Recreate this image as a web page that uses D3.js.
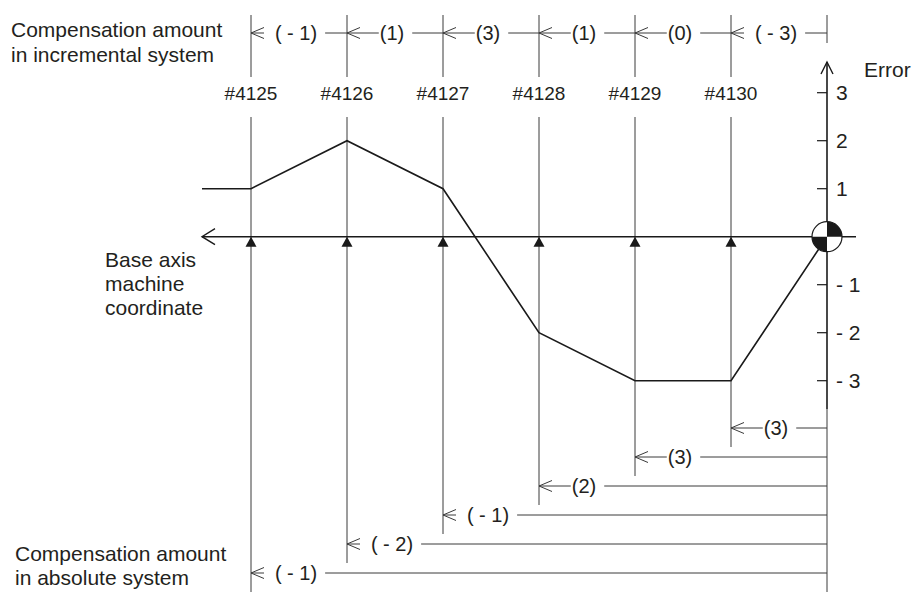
<!DOCTYPE html>
<html><head><meta charset="utf-8">
<script src="https://cdn.jsdelivr.net/npm/d3@7"></script>
<style>
body{margin:0;background:#fff}
svg{display:block}
text{font-family:"Liberation Sans",Arial,Helvetica,sans-serif;fill:#231f20}
</style></head>
<body><svg id="c" width="915" height="592"></svg>
<script>
// ---- data ----
const pointLabels = ["#4125","#4126","#4127","#4128","#4129","#4130"];
const errorValues = [1, 2, 1, -2, -3, -3];      // error at each compensation point
const leadError = 1;                              // error left of #4125
const referenceError = 0;                         // error at reference point
const incremental = [-1, 1, 3, 1, 0, -3];         // incremental system amounts
const absolute = [-1, -2, -1, 2, 3, 3];           // absolute system amounts
const yTicks = [3, 2, 1, -1, -2, -3];

// ---- layout ----
const svg = d3.select("#c");
const x = d3.scaleLinear().domain([0, 6]).range([251, 827]);
const y = d3.scaleLinear().domain([-3, 3]).range([380.7, 92.7]);
const rowY = d3.scaleLinear().domain([5, 0]).range([428, 573]);
const axisLeft = 202, axisRight = 856;
const incY = 33;
const dark = "#1a1a1a", thin = "#3a3a3a";
const FS = 20, LFS = 21;

const fmtAmt = v => v < 0 ? "( - " + (-v) + ")" : "(" + v + ")";
const fmtTick = v => v < 0 ? "- " + (-v) : String(v);

function arrowHead(g, tipX, yy) {
  g.append("path").attr("d", `M${tipX+13},${yy-5.5}L${tipX},${yy}L${tipX+13},${yy+5.5}`)
    .attr("fill", "none").attr("stroke", thin).attr("stroke-width", 1);
}

function amountRow(g, x0, x1, yy, v) {
  const cx = x0 + 45;
  const t = g.append("text").attr("x", cx).attr("y", yy).attr("dy", 7)
    .attr("text-anchor", "middle").attr("font-size", FS).text(fmtAmt(v));
  const w = t.node().getComputedTextLength();
  const ts = cx - w / 2, te = cx + w / 2;
  arrowHead(g, x0, yy);
  g.append("line").attr("x1", x0).attr("x2", v >= 0 ? ts - 1 : x0 + 13)
    .attr("y1", yy).attr("y2", yy).attr("stroke", thin).attr("stroke-width", 1);
  g.append("line").attr("x1", te + 8).attr("x2", x1)
    .attr("y1", yy).attr("y2", yy).attr("stroke", thin).attr("stroke-width", 1);
}

const gRef = svg.append("g");
// vertical reference lines
pointLabels.forEach((lab, i) => {
  gRef.append("line").attr("x1", x(i)).attr("x2", x(i)).attr("y1", 15).attr("y2", 77)
    .attr("stroke", thin).attr("stroke-width", 1);
  gRef.append("line").attr("x1", x(i)).attr("x2", x(i)).attr("y1", 117).attr("y2", rowY(i) + 19)
    .attr("stroke", thin).attr("stroke-width", 1);
  gRef.append("text").attr("x", x(i)).attr("y", 100).attr("text-anchor", "middle")
    .attr("font-size", 19).text(lab);
});
// right reference line pieces
gRef.append("line").attr("x1", x(6)).attr("x2", x(6)).attr("y1", 15).attr("y2", 43)
  .attr("stroke", thin).attr("stroke-width", 1);
gRef.append("line").attr("x1", x(6)).attr("x2", x(6)).attr("y1", 409).attr("y2", 592)
  .attr("stroke", thin).attr("stroke-width", 1);

// incremental row
incremental.forEach((v, i) => amountRow(gRef, x(i), x(i + 1), incY, v));
// absolute rows
absolute.forEach((v, i) => amountRow(gRef, x(i), x(6), rowY(i), v));

// base axis
const gAx = svg.append("g");
gAx.append("line").attr("x1", axisLeft).attr("x2", axisRight).attr("y1", y(0)).attr("y2", y(0))
  .attr("stroke", dark).attr("stroke-width", 1.6);
gAx.append("path").attr("d", `M${axisLeft+13},${y(0)-8}L${axisLeft},${y(0)}L${axisLeft+13},${y(0)+8}`)
  .attr("fill", "none").attr("stroke", dark).attr("stroke-width", 1.4);
// error axis
gAx.append("line").attr("x1", x(6)).attr("x2", x(6)).attr("y1", 62).attr("y2", 409)
  .attr("stroke", dark).attr("stroke-width", 1.6);
gAx.append("path").attr("d", `M${x(6)-6},${74}L${x(6)},${62}L${x(6)+6},${74}`)
  .attr("fill", "none").attr("stroke", dark).attr("stroke-width", 1.4);
gAx.append("text").attr("x", 864).attr("y", 77).attr("font-size", LFS).text("Error");
yTicks.forEach(v => {
  gAx.append("line").attr("x1", x(6) - 10).attr("x2", x(6)).attr("y1", y(v)).attr("y2", y(v))
    .attr("stroke", dark).attr("stroke-width", 1.2);
  gAx.append("text").attr("x", 836).attr("y", y(v)).attr("dy", 7).attr("font-size", LFS).text(fmtTick(v));
});
// triangles
pointLabels.forEach((lab, i) => {
  gAx.append("path").attr("d", `M${x(i)},${y(0)}L${x(i)-5.5},${y(0)+10}L${x(i)+5.5},${y(0)+10}Z`)
    .attr("fill", dark);
});

// error curve
const curve = [{i: x.invert(axisLeft), v: leadError}]
  .concat(errorValues.map((v, i) => ({i, v})))
  .concat([{i: 6, v: referenceError}]);
svg.append("path").datum(curve)
  .attr("d", d3.line().x(d => x(d.i)).y(d => y(d.v)))
  .attr("fill", "none").attr("stroke", dark).attr("stroke-width", 1.6);

// reference point marker
const gM = svg.append("g").attr("transform", `translate(${x(6)},${y(0)})`);
gM.append("circle").attr("r", 15).attr("fill", "#fff").attr("stroke", dark).attr("stroke-width", 1.2);
const arc = d3.arc().innerRadius(0).outerRadius(15);
gM.append("path").attr("d", arc({startAngle: 0, endAngle: Math.PI / 2})).attr("fill", dark);
gM.append("path").attr("d", arc({startAngle: Math.PI, endAngle: 1.5 * Math.PI})).attr("fill", dark);

// side labels
function block(xx, ys, lines) {
  lines.forEach((s, k) => svg.append("text").attr("x", xx).attr("y", ys[k]).attr("font-size", LFS).text(s));
}
block(11, [37, 62], ["Compensation amount", "in incremental system"]);
block(105, [267, 291, 315], ["Base axis", "machine", "coordinate"]);
block(15, [561, 585], ["Compensation amount", "in absolute system"]);
</script></body></html>
